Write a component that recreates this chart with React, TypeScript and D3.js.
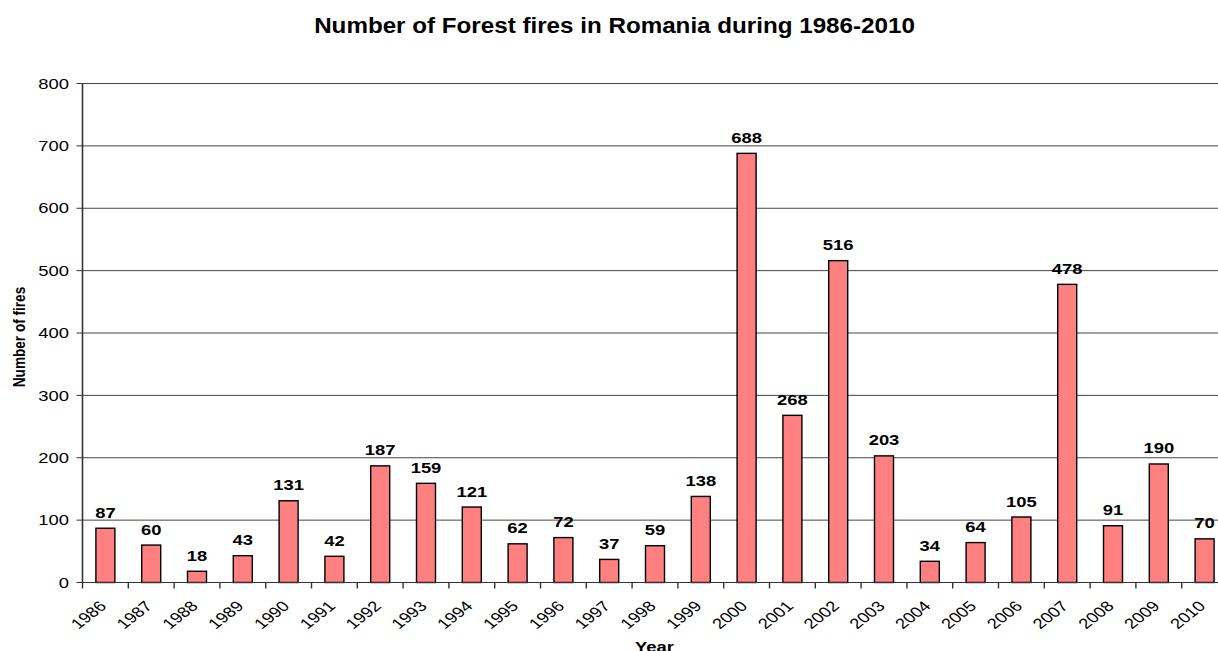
import React from "react";
import * as d3 from "d3";

const years: string[] = [
  "1986", "1987", "1988", "1989", "1990", "1991", "1992", "1993", "1994", "1995",
  "1996", "1997", "1998", "1999", "2000", "2001", "2002", "2003", "2004", "2005",
  "2006", "2007", "2008", "2009", "2010",
];
const fires: number[] = [
  87, 60, 18, 43, 131, 42, 187, 159, 121, 62,
  72, 37, 59, 138, 688, 268, 516, 203, 34, 64,
  105, 478, 91, 190, 70,
];
const yTicks: number[] = [0, 100, 200, 300, 400, 500, 600, 700, 800];
const title = "Number of Forest fires in Romania during 1986-2010";
const xTitle = "Year";
const yTitle = "Number of fires";

const W = 1218;
const H = 651;
const FONT = "'Liberation Sans', Arial, Helvetica, sans-serif";
const SX = 1.27; // horizontal stretch of the original picture's text

export default function App() {
  const left = 82.5;
  const right = 1227.5;
  const x = d3.scaleBand<string>().domain(years).range([left, right]).padding(0);
  const y = d3.scaleLinear().domain([0, 800]).range([582.5, 83.5]);
  const step = x.step();
  const barW = step * 0.415;
  const y0 = y(0);

  return (
    <svg
      width={W}
      height={H}
      style={{ position: "absolute", left: 0, top: 0, background: "#fff" }}
      fontFamily={FONT}
    >
      <rect x={0} y={0} width={W} height={H} fill="#fff" />
      {/* title */}
      <text
        transform={`translate(614.5,33.3) scale(1.1,1)`}
        textAnchor="middle"
        fontSize={22}
        fontWeight="bold"
        fill="#000"
      >
        {title}
      </text>

      {/* gridlines */}
      {yTicks.map((t) => (
        <line
          key={"g" + t}
          x1={left}
          x2={W}
          y1={y(t)}
          y2={y(t)}
          stroke="#444"
          strokeWidth={1}
        />
      ))}

      {/* y ticks & labels */}
      {yTicks.map((t) => (
        <g key={"yt" + t}>
          <line x1={left - 6} x2={left} y1={y(t)} y2={y(t)} stroke="#333" strokeWidth={1} />
          <text
            transform={`translate(69,${y(t) + 5.2}) scale(${SX},1)`}
            textAnchor="end"
            fontSize={14.5}
            fill="#000"
          >
            {t}
          </text>
        </g>
      ))}

      {/* bars */}
      {years.map((yr, i) => {
        const cx = (x(yr) as number) + step / 2;
        const v = fires[i];
        return (
          <g key={"b" + yr}>
            <rect
              x={cx - barW / 2}
              y={y(v)}
              width={barW}
              height={y0 - y(v)}
              fill="#FF8080"
              stroke="#000"
              strokeWidth={1.4}
            />
            <text
              transform={`translate(${cx},${y(v) - 10.5}) scale(${SX},1)`}
              textAnchor="middle"
              fontSize={14.5}
              fontWeight="bold"
              fill="#000"
            >
              {v}
            </text>
          </g>
        );
      })}

      {/* axes */}
      <line x1={left} x2={W} y1={y0} y2={y0} stroke="#333" strokeWidth={1} />
      <line x1={left} x2={left} y1={y(800)} y2={y0} stroke="#333" strokeWidth={1.6} />

      {/* x ticks */}
      {years.map((yr) => (
        <line
          key={"xt" + yr}
          x1={x(yr) as number}
          x2={x(yr) as number}
          y1={y0}
          y2={y0 + 6}
          stroke="#333"
          strokeWidth={1.4}
        />
      ))}
      {/* x tick labels */}
      {years.map((yr) => {
        const cx = (x(yr) as number) + step / 2;
        return (
          <text
            key={"xl" + yr}
            transform={`translate(${cx + 2},${607}) scale(${SX},1) rotate(-45)`}
            textAnchor="end"
            fontSize={14.5}
            fill="#000"
          >
            {yr}
          </text>
        );
      })}

      {/* axis titles */}
      <text
        transform={`translate(654.5,652) scale(${SX},1)`}
        textAnchor="middle"
        fontSize={14.5}
        fontWeight="bold"
        fill="#000"
      >
        {xTitle}
      </text>
      <text
        transform={`translate(25,337) scale(${SX},1) rotate(-90)`}
        textAnchor="middle"
        fontSize={13.6}
        fontWeight="bold"
        fill="#000"
      >
        {yTitle}
      </text>
    </svg>
  );
}
